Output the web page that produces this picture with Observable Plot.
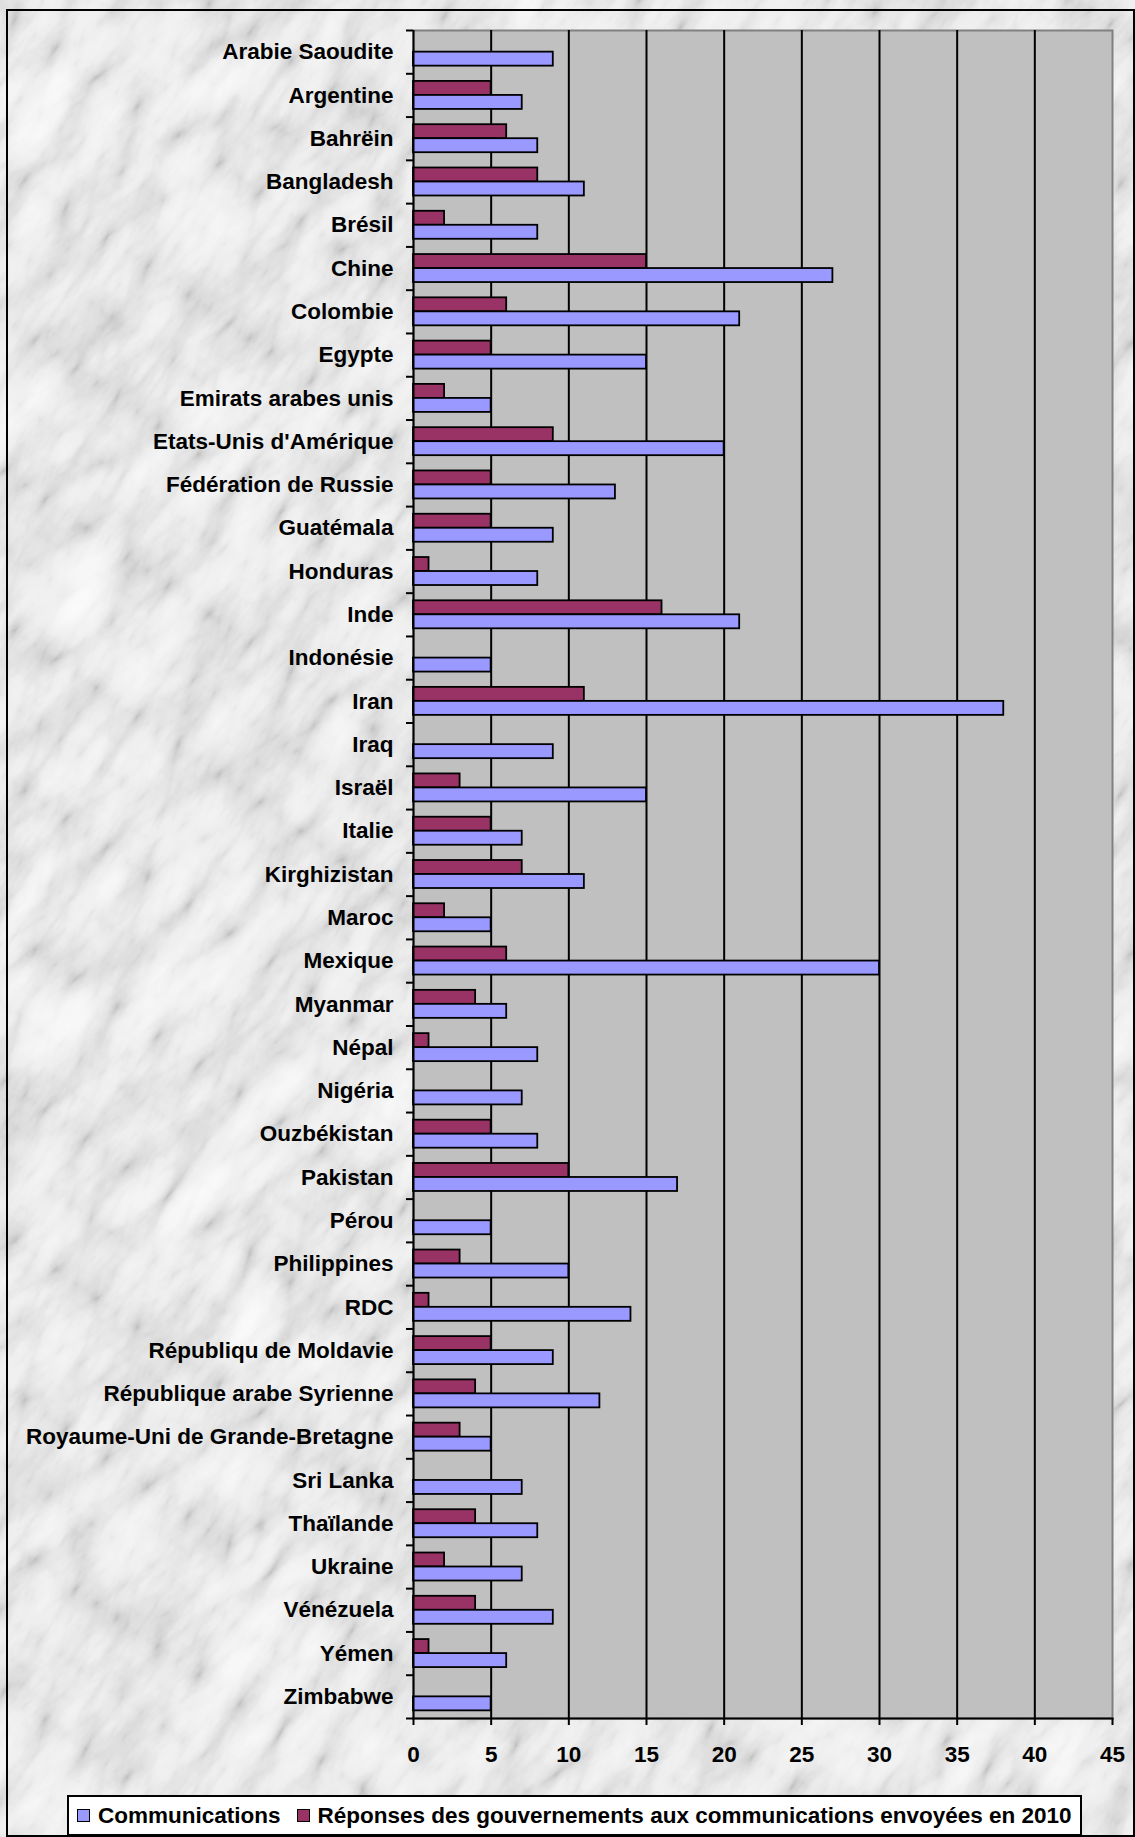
<!DOCTYPE html>
<html>
<head>
<meta charset="utf-8">
<script src="https://cdn.jsdelivr.net/npm/d3@7"></script>
<script src="https://cdn.jsdelivr.net/npm/@observablehq/plot@0.6"></script>
<style>
  html, body { margin: 0; padding: 0; background: #fff; }
  #wrap { position: relative; width: 1135px; height: 1837px; overflow: hidden; font-family: "Liberation Sans", Arial, sans-serif; }
  #marble { position: absolute; left: 0; top: 0; }
  #border { position: absolute; left: 6px; top: 9px; width: 1125px; height: 1824px; border: 2px solid #000; box-sizing: content-box; }
  #chart { position: absolute; left: 0; top: 0; }
  #legend { position: absolute; left: 67px; top: 1795px; width: 1011px; height: 37px; background: #fff; border: 2px solid #000;
            display: flex; align-items: center; font-weight: bold; font-size: 22.5px; color: #000; white-space: nowrap; }
  .sw { display: inline-block; width: 11px; height: 11px; border: 1.5px solid #000; margin-right: 8px; }
  .item { display: flex; align-items: center; }
</style>
</head>
<body>
<div id="wrap">
  <svg id="marble" width="1135" height="1837">
    <defs>
      <filter id="mf" x="0" y="0" width="100%" height="100%">
        <feTurbulence type="turbulence" baseFrequency="0.02 0.008" numOctaves="6" seed="11" result="t"/>
        <feColorMatrix in="t" type="matrix" values="0.33 0.33 0.33 0 0  0.33 0.33 0.33 0 0  0.33 0.33 0.33 0 0  0 0 0 0 1" result="g"/>
        <feComponentTransfer in="g">
          <feFuncR type="table" tableValues="0.5 0.72 0.86 0.93 0.97 0.99"/>
          <feFuncG type="table" tableValues="0.5 0.72 0.86 0.93 0.97 0.99"/>
          <feFuncB type="table" tableValues="0.5 0.72 0.86 0.93 0.97 0.99"/>
        </feComponentTransfer>
      </filter>
    </defs>
    <g transform="rotate(35 567 918)">
      <rect x="-800" y="-800" width="2800" height="3400" filter="url(#mf)"/>
    </g>
  </svg>
  <div id="border"></div>
  <div id="chart"></div>
  <div id="legend">
    <span class="item" style="margin-left:8px"><span class="sw" style="background:#9999FF"></span>Communications</span>
    <span class="item" style="margin-left:16px"><span class="sw" style="background:#993366"></span>Réponses des gouvernements aux communications envoyées en 2010</span>
  </div>
</div>
<script>
const countries = [
  "Arabie Saoudite", "Argentine", "Bahrëin", "Bangladesh", "Brésil", "Chine", "Colombie", "Egypte",
  "Emirats arabes unis", "Etats-Unis d'Amérique", "Fédération de Russie", "Guatémala", "Honduras",
  "Inde", "Indonésie", "Iran", "Iraq", "Israël", "Italie", "Kirghizistan", "Maroc", "Mexique",
  "Myanmar", "Népal", "Nigéria", "Ouzbékistan", "Pakistan", "Pérou", "Philippines", "RDC",
  "Républiqu de Moldavie", "République arabe Syrienne", "Royaume-Uni de Grande-Bretagne",
  "Sri Lanka", "Thaïlande", "Ukraine", "Vénézuela", "Yémen", "Zimbabwe"
];
const communications = [9, 7, 8, 11, 8, 27, 21, 15, 5, 20, 13, 9, 8, 21, 5, 38, 9, 15, 7, 11, 5, 30, 6, 8, 7, 8, 17, 5, 10, 14, 9, 12, 5, 7, 8, 7, 9, 6, 5];
const reponses =       [0, 5, 6, 8, 2, 15, 6, 5, 2, 9, 5, 5, 1, 16, 0, 11, 0, 3, 5, 7, 2, 6, 4, 1, 0, 5, 10, 0, 3, 1, 5, 4, 3, 0, 4, 2, 4, 1, 0];
const xTicks = [0, 5, 10, 15, 20, 25, 30, 35, 40, 45];
const seriesNames = ["Communications", "Réponses des gouvernements aux communications envoyées en 2010"];

const rows = countries.map((c, i) => ({country: c, comm: communications[i], resp: reponses[i]}));

const W = 1135, H = 1790, mT = 30, mB = 72, mL = 413, mR = 23;
const bw = (H - mT - mB) / countries.length;
const barH = 14;
const pxPerUnit = (W - mL - mR) / 45;

const chart = Plot.plot({
  width: W, height: H,
  marginTop: mT, marginBottom: mB, marginLeft: mL, marginRight: mR,
  style: {background: "transparent", fontFamily: "'Liberation Sans', Arial, sans-serif", fontWeight: "bold", fontSize: "22.5px", color: "#000"},
  x: {domain: [0, 45]},
  y: {domain: countries, padding: 0, round: false},
  marks: [
    Plot.frame({fill: "#C0C0C0", stroke: "#808080", strokeWidth: 2}),
    Plot.gridX(xTicks.filter(v => v > 0 && v < 45), {stroke: "#000", strokeOpacity: 1, strokeWidth: 2}),
    Plot.barX(rows.filter(d => d.resp > 0), {y: "country", x: "resp", fill: "#993366", stroke: "#000", strokeWidth: 1.8,
      insetTop: bw / 2 - barH, insetBottom: bw / 2}),
    Plot.barX(rows.filter(d => d.comm > 0), {y: "country", x: "comm", fill: "#9999FF", stroke: "#000", strokeWidth: 1.8,
      insetTop: bw / 2, insetBottom: bw / 2 - barH}),
    Plot.ruleY(countries, {y: d => d, x1: -7 / pxPerUnit, x2: 0, dy: -bw / 2, stroke: "#000", strokeWidth: 2}),
    Plot.ruleY(countries.slice(-1), {y: d => d, x1: -7 / pxPerUnit, x2: 0, dy: bw / 2, stroke: "#000", strokeWidth: 2}),
    Plot.ruleX([0], {stroke: "#000", strokeWidth: 2}),
    Plot.frame({anchor: "bottom", stroke: "#000", strokeWidth: 2}),
    Plot.axisX({ticks: xTicks, tickSize: 7, tickPadding: 21, stroke: "#000", strokeWidth: 2, label: null, fontSize: 22.5}),
    Plot.axisY({tickSize: 0, tickPadding: 20, label: null, fontSize: 22.5})
  ]
});
document.getElementById("chart").appendChild(chart);
</script>
</body>
</html>
